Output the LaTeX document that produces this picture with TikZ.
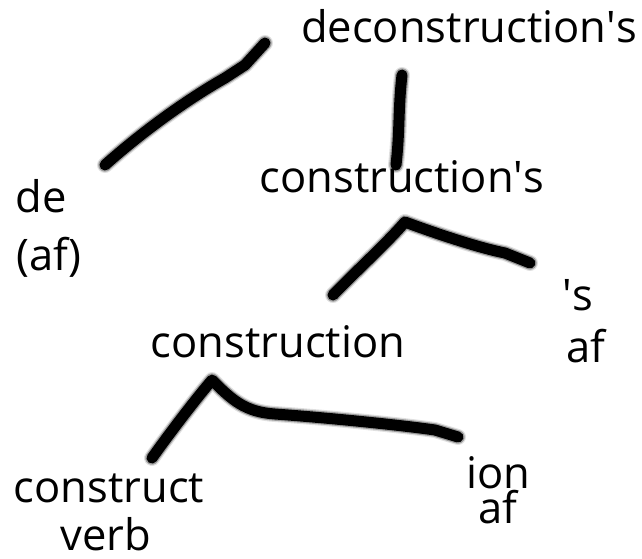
\documentclass[tikz,border=0pt]{standalone}
\usepackage{fontspec}
\setmainfont{Open Sans}
\begin{document}
\begin{tikzpicture}[x=1pt,y=-1pt,
  lbl/.style={inner sep=0pt,anchor=base,font=\fontsize{43.5}{46}\selectfont},
  glowa/.style={line width=16pt,line cap=round,line join=round,draw=black,opacity=0.12},
  glowb/.style={line width=13.5pt,line cap=round,line join=round,draw=black,opacity=0.3},
  brush/.style={line width=11pt,line cap=round,line join=round,draw=black}]
\useasboundingbox (0,0) rectangle (642,558);
% labels
\node[lbl] (root) at (469,42) {deconstruction\textquotesingle s};
\node[lbl] (cs) at (402,192) {construction\textquotesingle s};
\node[lbl] (de) at (41,212) {de};
\node[lbl] (deaf) at (49,270) {(af)};
\node[lbl] (s) at (578,310) {\textquotesingle s};
\node[lbl] (saf) at (586,362) {af};
\node[lbl] (c) at (278,357) {construction};
\node[lbl] (ct) at (109,502) {construct};
\node[lbl] (verb) at (106,550) {verb};
\node[lbl] (ion) at (498,488) {ion};
\node[lbl] (ionaf) at (498,523) {af};
% stroke coordinates
\coordinate (a1) at (105,165); \coordinate (a2) at (265,43);
\coordinate (b1) at (402,75);  \coordinate (b2) at (396,165);
\coordinate (c1) at (333,295); \coordinate (c2) at (405,222); \coordinate (c3) at (530,263);
\coordinate (d1) at (152,458); \coordinate (d2) at (212,380); \coordinate (d3) at (458,437);
\foreach \st in {glowa,glowb,brush}{
  \draw[\st] (a1) .. controls (150,125) and (195,95) .. (225,78) -- (245,65) -- (a2);
  \draw[\st] (b1) .. controls (398,110) and (400,130) .. (b2);
  \draw[\st] (c1) .. controls (355,272) and (385,245) .. (c2)
             .. controls (440,235) and (480,248) .. (505,253) -- (c3);
  \draw[\st] (d1) .. controls (172,430) and (195,400) .. (d2)
             .. controls (232,400) and (245,412) .. (275,414)
             .. controls (330,418) and (400,425) .. (435,430) -- (d3);
}
\end{tikzpicture}
\end{document}
